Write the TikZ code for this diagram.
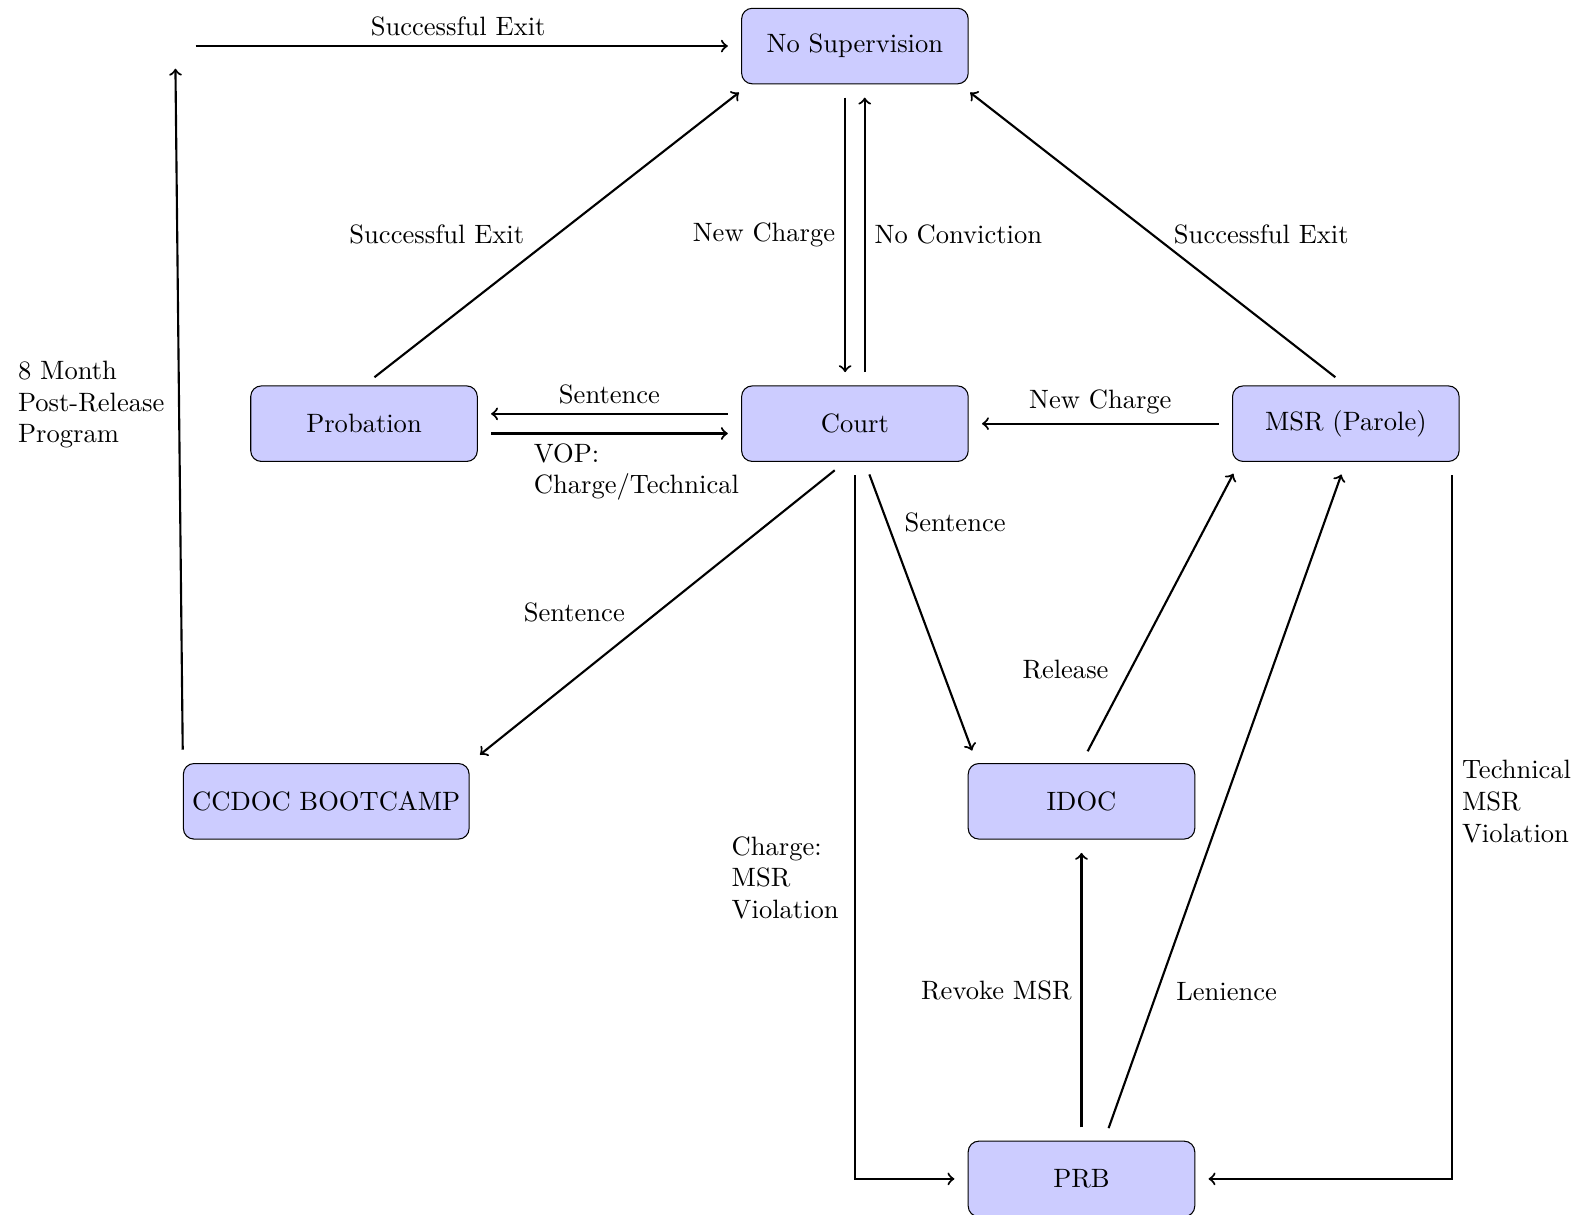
\documentclass[tikz,border=0pt]{standalone}
\usepackage{tikz}

\def\colsep{6.5}
\def\rowsep{5}

\begin{document}
\begin{tikzpicture}[
    stage/.style={draw,rectangle,rounded corners,fill=blue!20,minimum width=3cm,minimum height=1cm},
    flow/.style={->,thick,shorten >=5pt,shorten <=5pt},
    sidetext/.style={text width=#1,align=left},
    sidetext/.default=2cm
    ]
    \useasboundingbox (-11.32,-10.47) rectangle (9.68,5.61);

    \node[stage] (court) at (0,0) {Court};
    \node[stage] (nosup) at (0,\rowsep) {No Supervision};
    \node[stage] (prob) at (-\colsep,0) {Probation};
    \node[stage] (msr) at (\colsep,0) {MSR (Parole)};
    \node[stage] (ccdoc) at (-7,-\rowsep) {CCDOC BOOTCAMP};
    \node[stage] (idoc) at (3,-\rowsep) {IDOC};
    \node[stage] (prb) at (3,-2*\rowsep) {PRB};
    \coordinate (turn) at (-9,\rowsep);

    \draw[flow,shorten >=0.3cm] (ccdoc.north west) -- (turn)
    node[midway,left,sidetext] {8 Month Post-Release Program};
    \draw[flow,shorten <=0.27cm] (turn) -- (nosup.west)
    node[midway,above] {Successful Exit};
    \draw[flow] (prob.north) -- ([xshift=0.11cm]nosup.south west)
    node[midway,left=0.3cm] {Successful Exit};
    \draw[flow] (msr.north) -- ([xshift=-0.12cm]nosup.south east)
    node[midway,right=0.15cm] {Successful Exit};
    \draw[flow] ([xshift=-0.13cm]nosup.south) -- ([xshift=-0.13cm]court.north)
    node[midway,left] {New Charge};
    \draw[flow] ([xshift=0.13cm]court.north) -- ([xshift=0.13cm]nosup.south)
    node[midway,right] {No Conviction};

    \draw[flow] ([yshift=0.13cm]court.west) -- ([yshift=0.13cm]prob.east)
    node[midway,above] {Sentence};
    \draw[flow] ([yshift=-0.13cm]prob.east) -- ([yshift=-0.13cm]court.west)
    node[midway,below,sidetext] {VOP:\\Charge/Technical};
    \draw[flow] (msr.west) -- (court.east)
    node[midway,above] {New Charge};

    \draw[flow] ([xshift=-0.13cm]court.south) -- (ccdoc.north east)
    node[midway,left=0.3cm] {Sentence};
    \draw[flow] ([xshift=0.13cm]court.south) -- ([xshift=0.12cm]idoc.north west)
    node[pos=0.2,right=0.1cm] {Sentence};
    \draw[flow] (idoc.north) -- ([xshift=0.1cm]msr.south west)
    node[pos=0.31,left=0.16cm] {Release};
    \draw[flow] ([xshift=0.3cm]prb.north) -- (msr.south)
    node[pos=0.22,right=0.12cm] {Lenience};
    \draw[flow] (prb.north) -- (idoc.south)
    node[midway,left] {Revoke MSR};

    \draw[flow] (court.south) |- (prb.west)
    node[pos=0.29,left,sidetext=1.5cm] {Charge:\\MSR\\Violation};
    \draw[flow] ([xshift=-0.1cm]msr.south east) |- (prb.east)
    node[pos=0.237,right,sidetext=1.5cm] {Technical\\MSR\\Violation};
\end{tikzpicture}
\end{document}
